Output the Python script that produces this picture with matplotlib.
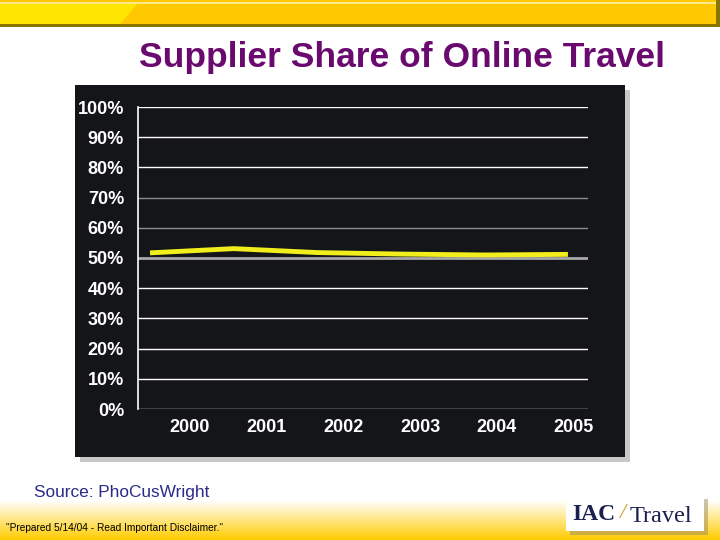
import numpy as np
import matplotlib
matplotlib.use('Agg')
import matplotlib.pyplot as plt
from matplotlib.patches import Rectangle, Polygon

# --- Data ---
years = ['2000', '2001', '2002', '2003', '2004', '2005']
supplier_share = [51.7, 53.1, 51.8, 51.3, 51.0, 51.2]
y_ticks = [0, 10, 20, 30, 40, 50, 60, 70, 80, 90, 100]
y_tick_labels = ['%d%%' % v for v in y_ticks]

plt.rcParams['font.family'] = ['Liberation Sans', 'DejaVu Sans']

fig = plt.figure(figsize=(7.2, 5.4), dpi=100)
fig.patch.set_facecolor('white')

W, H = 720.0, 540.0


def fx(px):
    return px / W


def fy(py):
    return 1 - py / H


# top yellow bar
fig.patches.append(Rectangle((0, fy(27)), 1, 27 / H, transform=fig.transFigure,
                             facecolor='#8a7400', edgecolor='none', zorder=0))
fig.patches.append(Rectangle((0, fy(24)), fx(716), 24 / H, transform=fig.transFigure,
                             facecolor='#ffc800', edgecolor='none', zorder=1))
fig.patches.append(Polygon([(0, fy(24)), (fx(120), fy(24)), (fx(138), fy(3)), (0, fy(3))],
                           closed=True, transform=fig.transFigure,
                           facecolor='#ffe600', edgecolor='none', zorder=2))
fig.patches.append(Rectangle((0, fy(4)), fx(716), 2 / H, transform=fig.transFigure,
                             facecolor='#ffe98a', edgecolor='none', zorder=2))

# bottom gradient
grad = np.linspace(0, 1, 64).reshape(-1, 1)
bg_ax = fig.add_axes([0, 0, 1, 40 / H], zorder=-5)
cmap = matplotlib.colors.LinearSegmentedColormap.from_list('yl', ['#ffcc00', '#ffe680', '#ffffff'])
bg_ax.imshow(grad, aspect='auto', cmap=cmap, origin='lower', extent=[0, 1, 0, 1])
bg_ax.axis('off')

# dark chart panel with shadow
fig.patches.append(Rectangle((fx(80), fy(462)), 550 / W, 372 / H, transform=fig.transFigure,
                             facecolor='#c8c8c8', edgecolor='none', zorder=3))
fig.patches.append(Rectangle((fx(75), fy(457)), 550 / W, 372 / H, transform=fig.transFigure,
                             facecolor='#141518', edgecolor='none', zorder=4))

# --- Plot area ---
ax = fig.add_axes([fx(138), fy(409), 450 / W, 302 / H], zorder=5)
ax.set_facecolor('none')
x = np.arange(len(years))
ax.set_xlim(-0.144, 5.24)
ax.set_ylim(0, 100)

for v in y_ticks:
    if v == 50:
        ax.axhline(v, color='#a8a8a8', lw=2, zorder=1)
    elif v in (60, 70):
        ax.axhline(v, color='#8c8c8c', lw=1, zorder=1)
    else:
        ax.axhline(v, color='white', lw=1, zorder=1)

ax.plot(x, supplier_share, color='#f2ee1c', lw=3.5, solid_capstyle='butt', zorder=3)

for s in ['top', 'right', 'bottom']:
    ax.spines[s].set_visible(False)
ax.spines['left'].set_color('white')
ax.spines['left'].set_linewidth(1.2)

ax.set_yticks(y_ticks)
ax.set_yticklabels(y_tick_labels, color='white', fontsize=13, fontweight='bold')
ax.tick_params(axis='y', length=0, pad=10)
tick_pos = 0.47 + 0.92 * x
ax.set_xticks(tick_pos)
ax.set_xticklabels(years, color='white', fontsize=13, fontweight='bold')
ax.tick_params(axis='x', length=0, pad=7)

# --- Texts ---
fig.text(fx(402), fy(57), 'Supplier Share of Online Travel', color='#6a0a6e',
         fontsize=25.5, fontweight='bold', ha='center', va='center')
fig.text(fx(34), fy(493), 'Source: PhoCusWright', color='#2a2a8a',
         fontsize=12.4, ha='left', va='center')
fig.text(fx(6), fy(528), '"Prepared 5/14/04 - Read Important Disclaimer."', color='black',
         fontsize=7.3, ha='left', va='center')

# logo
fig.patches.append(Rectangle((fx(570), fy(535)), 138 / W, 36 / H, transform=fig.transFigure,
                             facecolor='#9a8a60', edgecolor='none', zorder=6, alpha=0.5))
fig.patches.append(Rectangle((fx(566), fy(531)), 138 / W, 36 / H, transform=fig.transFigure,
                             facecolor='white', edgecolor='none', zorder=7))
fig.text(fx(572), fy(514), 'IAC', color='#1a2050', family='Liberation Serif',
         fontsize=17, fontweight='bold', ha='left', va='center', zorder=8)
fig.text(fx(619), fy(513), '/', color='#c8a020', family='Liberation Serif',
         fontsize=16, ha='left', va='center', zorder=8, style='italic')
fig.text(fx(630), fy(517), 'Travel', color='#1a2050', family='Liberation Serif',
         fontsize=17.5, ha='left', va='center', zorder=8)

fig.savefig('out.png', dpi=100)
